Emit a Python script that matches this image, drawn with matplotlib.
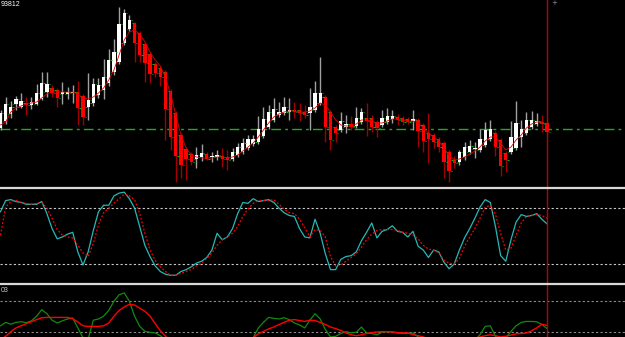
import numpy as np
import matplotlib
matplotlib.use("Agg")
import matplotlib.pyplot as plt
from matplotlib.lines import Line2D

# candles, price in chart points
opens = [62, 69, 76, 86, 83, 87, 85, 86, 91, 98, 102, 100, 96, 96.5, 97.5, 98, 94, 83, 87, 95,
         100, 107, 118, 128, 147, 161, 167, 157, 146, 136, 126, 122, 118, 99, 77, 55, 41, 36, 31, 33,
         36, 33, 33, 34, 33, 31, 35, 38, 42, 46, 48, 54, 63, 70, 75, 77, 78, 80, 80, 78,
         77, 80, 87, 93, 78, 63, 60, 63, 66, 64, 68, 72, 72, 68, 65, 68, 71, 73, 72, 71,
         69, 70, 65, 57, 55, 51, 47, 38, 30, 28, 33, 38, 40.5, 40, 45, 51, 57, 50, 37, 38,
         42, 53, 57, 63, 66, 68, 67]
highs = [80, 93, 89, 94, 97, 93, 93, 106, 118, 118, 105, 102, 108, 103, 105, 109, 96, 117, 112, 112,
         131, 141, 151, 183, 181, 175, 168, 159, 148, 138, 128, 124, 120, 101, 79, 57, 43, 38, 43, 46,
         38, 38, 40, 42, 40, 42, 47, 52, 55, 55, 74, 83, 85, 92, 88, 93, 92, 88, 87, 85,
         102, 109, 133, 95, 80, 65, 78, 75, 74, 83, 82, 87, 75, 70, 80, 82, 80, 76, 74, 73,
         80, 72, 67, 77, 57, 53, 49, 40, 34, 40, 48, 50, 48, 61, 68, 70, 59, 52, 39, 69,
         89, 70, 78, 79, 77, 75, 69]
lows = [60, 66, 72, 80, 82, 75, 81, 85, 90, 93, 93, 83, 86, 91, 87, 65, 65, 70, 84, 92,
        91, 104, 115, 126, 145, 159, 128, 128, 108, 107, 113, 104, 50, 40, 8, 12, 10, 25, 22, 29,
        30, 28, 30, 23, 20, 29, 33, 36, 40, 44, 46, 52, 61, 68, 73, 75, 70, 72, 69, 72,
        60, 78, 85, 48, 40, 48, 58, 57, 60, 62, 66, 54, 58, 53, 63, 66, 67, 65, 65, 66,
        60, 43, 38, 27, 42, 38, 12, 8, 22, 25, 30, 36, 32, 38, 43, 49, 34, 14, 18, 36,
        40, 43, 55, 61, 64, 58, 57]
closes = [77, 86, 83, 91, 89, 85, 88, 97, 107, 106, 97, 92, 98, 98, 98.5, 82, 73, 90, 106, 105,
          113, 130, 138, 166, 177, 170, 147, 135, 127, 116, 117, 113, 81, 53, 34, 25, 31, 28, 35, 37,
          31, 34, 35, 31, 30, 38, 43, 47, 51, 51, 61, 71, 78, 81, 78, 83, 80, 78, 77, 75,
          83, 97, 97, 63, 50, 57, 69, 66, 63, 72, 78, 69, 63, 62, 72, 74, 74, 70, 68, 68,
          71, 59, 49, 51, 48, 43, 28, 19, 27, 38, 43, 44, 41.5, 51, 60, 61, 43, 24, 30, 53,
          67, 61, 70, 70, 69, 66, 58]
ma_line = [65, 68, 78, 82, 84, 86, 87, 88, 92, 96, 98, 98, 98, 98, 98, 96, 92, 91, 93, 97,
           102, 110, 120, 135, 150, 158, 160, 156, 148, 138, 130, 124, 112, 96, 75, 55, 42, 35, 33, 32,
           32, 32, 33, 33, 32, 33, 35, 39, 43, 47, 53, 60, 67, 73, 76, 78, 79, 79, 78, 78,
           79, 82, 87, 85, 78, 70, 65, 64, 64, 66, 70, 70, 69, 67, 67, 69, 71, 71, 70, 69,
           69, 67, 62, 57, 53, 49, 42, 35, 30, 31, 33, 36, 39, 43, 49, 53, 53, 47, 40, 43,
           50, 55, 62, 66, 68, 68, 65]
level_main = 61

# stochastic %K / %D
stoch_k = [76, 88, 89, 87, 86, 84, 84, 84, 87, 74, 58, 47, 49, 52, 54, 33, 19, 33, 56, 76,
           83, 83, 93, 96, 97, 90, 80, 60, 40, 28, 18, 12, 9, 8, 8, 12, 14, 17, 21, 23,
           27, 35, 53, 46, 49, 58, 74, 86, 85, 90, 87, 88, 89, 86, 80, 75, 72, 71, 58, 49,
           48, 68, 53, 31, 14, 14, 25, 28, 29, 33, 45, 54, 64, 48, 55, 57, 61, 55, 54, 49,
           55, 39, 35, 27, 35, 33, 22, 15, 20, 35, 48, 58, 69, 81, 89, 86, 60, 29, 23, 46,
           65, 73, 71, 72, 74, 68, 63]
stoch_d = [51, 81, 87, 88, 86, 85, 84, 85, 86, 80, 69, 57, 51, 49, 48, 40, 32, 28, 42, 62,
           75, 80, 85, 90, 95, 93, 89, 74, 53, 35, 24, 17, 12, 8, 8, 10, 12, 14, 18, 21,
           26, 32, 40, 46, 49, 53, 60, 71, 79, 85, 88, 88, 88, 89, 84, 79, 75, 74, 68, 59,
           49, 57, 56, 49, 28, 18, 19, 23, 27, 31, 38, 46, 52, 56, 57, 57, 57, 56, 54, 53,
           51, 47, 40, 36, 35, 32, 24, 21, 20, 26, 39, 49, 58, 69, 81, 83, 73, 53, 35, 37,
           51, 64, 71, 72, 73, 72, 69]
stoch_levels = [80, 20]

# lower window (units: lower dotted level = 0, upper = 1)
osc_green = [0.21, 0.32, 0.26, 0.32, 0.34, 0.31, 0.37, 0.52, 0.73, 0.60, 0.39, 0.30, 0.37, 0.43, 0.46, 0.14, -0.18, -0.22, 0.39, 0.43,
             0.52, 0.71, 1.00, 1.21, 1.27, 1.00, 0.52, 0.19, 0.03, 0.00, -0.02, -0.11, -0.24, -0.4, -0.5, -0.5, -0.5, -0.5, -0.5, -0.5,
             -0.5, -0.5, -0.5, -0.5, -0.5, -0.5, -0.5, -0.45, -0.35, -0.18, 0.14, 0.32, 0.48, 0.45, 0.43, 0.47, 0.41, 0.30, 0.24, 0.14,
             0.39, 0.60, 0.43, 0.09, -0.15, -0.13, -0.04, 0.02, -0.02, 0.00, 0.17, -0.02, -0.04, -0.08, 0.00, 0.02, 0.01, -0.02, -0.04, -0.04,
             -0.02, -0.15, -0.3, -0.4, -0.45, -0.5, -0.5, -0.5, -0.5, -0.45, -0.4, -0.35, -0.25, -0.08, 0.19, 0.21, -0.13, -0.24, -0.18, 0.03,
             0.21, 0.32, 0.35, 0.35, 0.34, 0.25, 0.12]
osc_red = [-0.24, -0.13, 0.02, 0.14, 0.21, 0.28, 0.34, 0.41, 0.47, 0.48, 0.48, 0.48, 0.48, 0.48, 0.44, 0.33, 0.21, 0.19, 0.19, 0.19,
           0.21, 0.30, 0.52, 0.70, 0.82, 0.90, 0.88, 0.78, 0.68, 0.52, 0.28, 0.05, -0.13, -0.3, -0.4, -0.45, -0.5, -0.5, -0.5, -0.5,
           -0.5, -0.5, -0.5, -0.5, -0.5, -0.5, -0.45, -0.4, -0.3, -0.18, -0.05, 0.03, 0.11, 0.17, 0.25, 0.32, 0.39, 0.41, 0.38, 0.35,
           0.39, 0.38, 0.32, 0.25, 0.17, 0.12, 0.06, -0.02, -0.08, -0.11, -0.08, -0.04, -0.01, 0.01, 0.02, 0.02, 0.01, -0.01, -0.02, -0.02,
           -0.08, -0.11, -0.15, -0.22, -0.3, -0.35, -0.4, -0.4, -0.4, -0.35, -0.3, -0.25, -0.2, -0.15, -0.11, -0.08, -0.11, -0.15, -0.13, -0.09,
           -0.05, -0.04, -0.02, 0.05, 0.14, 0.26, 0.22]
osc_levels = [1.0, 0.0]

W, H = 625, 337
STEP = 5.156  # px per bar
idx = np.arange(len(closes))
xlim = (-0.5 / STEP, (W - 0.5) / STEP)
last_bar = idx[-1]

fig = plt.figure(figsize=(W / 100, H / 100), dpi=100, facecolor="black")


def px_axes(top, bottom):
    ax = fig.add_axes([0, 1 - bottom / H, 1, (bottom - top) / H])
    ax.set_xlim(*xlim)
    ax.set_axis_off()
    return ax


ax_main = px_axes(0, 187)
ax_sto = px_axes(189, 283)
ax_low = px_axes(285, 337)

# --- main window
ax_main.set_ylim(3, 190)
o = np.array(opens, dtype=float)
c = np.array(closes, dtype=float)
up = c >= o
wick_col = np.where(up, "#a0a0a0", "#a00000")
ax_main.vlines(idx, lows, highs, colors=wick_col, lw=1.0, zorder=2)
body_bot = np.minimum(o, c)
body_h = np.maximum(np.abs(c - o), 0.9)
ax_main.bar(idx, body_h, bottom=body_bot, width=0.64,
            color=np.where(up, "white", "#ff0000"), linewidth=0, zorder=3)
ax_main.hlines(o, idx - 0.55, idx - 0.32, colors="#00c000", lw=0.7, zorder=4)
ax_main.hlines(c, idx + 0.32, idx + 0.55, colors="#00c000", lw=0.7, zorder=4)
ax_main.plot(idx, ma_line, color="#e00000", lw=0.6, zorder=4)
ax_main.axhline(level_main, color="#1faa1f", lw=1.0, ls=(0, (7, 3, 2, 3)), zorder=1)

# --- stochastic
ax_sto.set_ylim(-0.32, 100.4)
for lv in stoch_levels:
    ax_sto.axhline(lv, color="#c8c8c8", lw=0.8, ls=(0, (2, 2)))
ax_sto.plot(idx, stoch_k, color="#26b8b8", lw=0.9)
ax_sto.plot(idx, stoch_d, color="#ff0000", lw=0.9, ls=(0, (1.5, 1.5)))

# --- lower window
ax_low.set_ylim(-0.152, 1.526)
for lv in osc_levels:
    ax_low.axhline(lv, color="#8a8a8a", lw=0.8, ls=(0, (2, 2)))
ax_low.plot(idx, osc_green, color="#108a10", lw=0.9)
ax_low.plot(idx, osc_red, color="#ff0000", lw=1.0)

for ax in (ax_main, ax_sto, ax_low):
    ax.axvline(last_bar, color="#c00000", lw=1.0)

# window separators
for y in (188, 284):
    fig.add_artist(Line2D([0, 1], [1 - y / H, 1 - y / H], transform=fig.transFigure,
                          color="#d8d8d8", lw=1.6))

fig.text(0.5 / W, 1 - 0.5 / H, "93812", color="white", fontsize=5, family="Liberation Sans",
         ha="left", va="top")
fig.text(0.5 / W, 1 - 287 / H, "03", color="#c8c8c8", fontsize=5, family="Liberation Sans",
         ha="left", va="top")
fig.text(554 / W, 1 - 0 / H, "+", color="#8899aa", fontsize=5, ha="center", va="top")

fig.savefig("out.png", dpi=100, facecolor="black")
